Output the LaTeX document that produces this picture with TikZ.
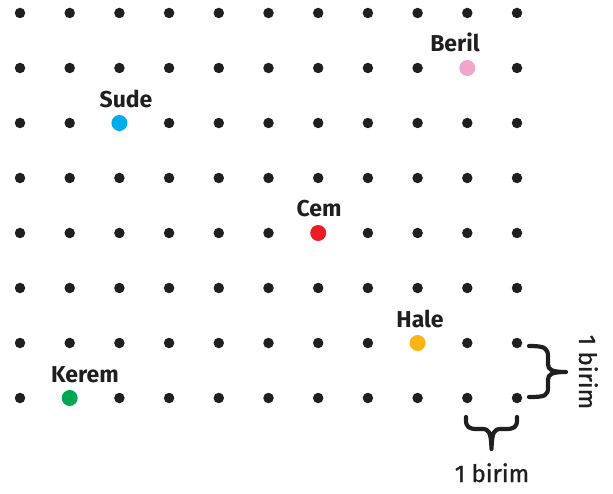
\documentclass[tikz,border=0pt]{standalone}
\usepackage{fontspec}
\setmainfont{Fira Sans}
\newfontfamily\unitfont[FakeBold=1.2]{Fira Sans}
\begin{document}
\begin{tikzpicture}[x=1pt,y=-1pt,
  griddot/.style={circle,fill=black!88,inner sep=0pt,minimum size=10.5pt},
  kiddot/.style={circle,inner sep=0pt,minimum size=16pt},
  namelbl/.style={font=\fontsize{23}{26}\selectfont\bfseries,text=black!88,inner sep=0pt},
  unitlbl/.style={font=\unitfont\fontsize{24}{27}\selectfont,text=black!88,inner sep=0pt},
  bracepath/.style={line width=4.2pt,line cap=round,line join=round,draw=black!88}]
\useasboundingbox (0,0) rectangle (613,494);
\foreach \i in {0,...,10}{
  \foreach \j in {0,...,7}{
    \node[griddot] (d-\i-\j) at ({20+49.7*\i},{13+55*\j}) {};
  }
}
\node[kiddot,fill={rgb,255:red,240;green,166;blue,200}] (beril) at (d-9-1) {};
\node[kiddot,fill={rgb,255:red,0;green,172;blue,236}] (sude) at (d-2-2) {};
\node[kiddot,fill={rgb,255:red,237;green,28;blue,36}] (cem) at (d-6-4) {};
\node[kiddot,fill={rgb,255:red,252;green,180;blue,21}] (hale) at (d-8-6) {};
\node[kiddot,fill={rgb,255:red,0;green,166;blue,81}] (kerem) at (d-1-7) {};
\node[namelbl,anchor=base] (lberil) at (455,52) {Beril};
\node[namelbl,anchor=base] (lsude) at (126,108) {Sude};
\node[namelbl,anchor=base] (lcem) at (319,217) {Cem};
\node[namelbl,anchor=base] (lhale) at (420,327) {Hale};
\node[namelbl,anchor=base] (lkerem) at (85,382) {Kerem};
% vertical brace
\draw[bracepath] (529,346) .. controls (545,346) and (548,348) .. (548,357) -- (548,364)
  .. controls (548,370) and (552,372) .. (566,372)
  .. controls (552,372) and (548,374) .. (548,380) -- (548,387)
  .. controls (548,396) and (545,397) .. (529,397);
\coordinate (vtip) at (566,372);
\node[unitlbl,rotate=-90,anchor=base] (lv) at (579,372) {1 birim};
% horizontal brace
\draw[bracepath] (466,417) -- (466,420) .. controls (466,427) and (469,429) .. (477,429) -- (482,429)
  .. controls (489,429) and (491,432) .. (491.5,449)
  .. controls (492,432) and (494,429) .. (501,429) -- (506,429)
  .. controls (514,429) and (517,427) .. (517,420) -- (517,417);
\coordinate (htip) at (491.5,449);
\node[unitlbl,anchor=base] (lh) at (492,482) {1 birim};
\end{tikzpicture}
\end{document}
